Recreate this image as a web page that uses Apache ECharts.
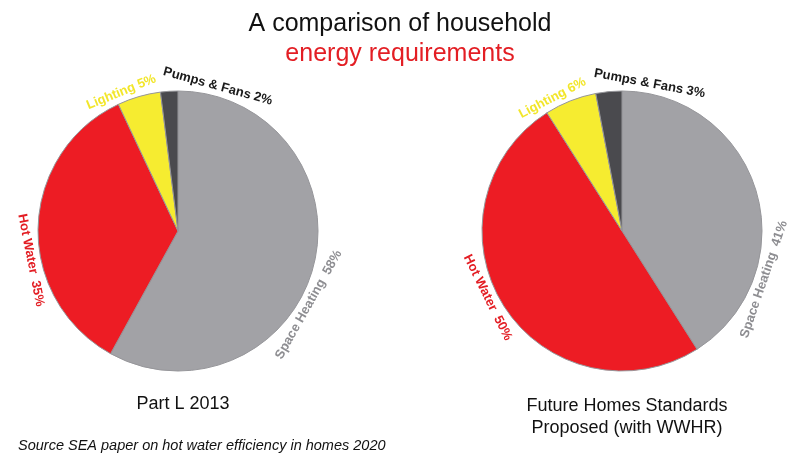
<!DOCTYPE html>
<html>
<head>
<meta charset="utf-8">
<title>Household energy requirements</title>
<script src="https://cdn.jsdelivr.net/npm/echarts@6/dist/echarts.min.js"></script>
<style>
    html, body { margin: 0; padding: 0; background: #fff; }
    #chart { width: 800px; height: 475px; }
</style>
</head>
<body>
<div id="chart"></div>
<script>
// data (percent)
var categories = ['Space Heating', 'Hot Water', 'Lighting', 'Pumps & Fans'];
var partL2013 = [58, 35, 5, 2];
var futureHomes = [41, 50, 6, 3];

// colours
var sliceColors = ['#a2a2a6', '#ed1c24', '#f6ec30', '#4a4a4e'];
var labelColors = ['#8e8e92', '#e31e24', '#f2e629', '#1a1a1a'];

// label angles are nudged a bit off the slice middle (degrees), like the original
var leftShift = [15, -13, -6, 19];
var rightShift = [35, 6, -6, 16];

var pieRadius = 140;
var labelGap = 10;
var leftCenter = [178, 231];
var rightCenter = [622, 231];
var fontName = "'Liberation Sans', Arial, sans-serif";

/**
 * 标签沿圆周排布 (tangential, outside)
 * */
function arcLabels(values, center, shift) {
    var total = 0;
    for (var i = 0; i < values.length; i++) total += values[i];
    return function (params) {
        var idx = params.dataIndex;
        var before = 0;
        for (var j = 0; j < idx; j++) before += values[j];
        var deg = (before + values[idx] / 2) / total * 360 + shift[idx];
        var rad = deg * Math.PI / 180;
        var d = pieRadius + labelGap;
        var rot = -deg;
        while (rot <= -90) rot += 180;
        while (rot > 90) rot -= 180;
        return {
            x: center[0] + d * Math.sin(rad),
            y: center[1] - d * Math.cos(rad),
            rotate: rot,
            align: 'center',
            verticalAlign: 'middle'
        };
    };
}

function buildData(values) {
    var arr = [];
    for (var i = 0; i < categories.length; i++) {
        arr.push({
            name: categories[i],
            value: values[i],
            itemStyle: { color: sliceColors[i] },
            label: { color: labelColors[i] }
        });
    }
    return arr;
}

function pieSeries(values, center, shift) {
    return {
        type: 'pie',
        center: center,
        radius: pieRadius,
        startAngle: 90,
        clockwise: true,
        avoidLabelOverlap: false,
        silent: true,
        itemStyle: { borderColor: '#96969a', borderWidth: 1 },
        label: {
            show: true,
            position: 'outside',
            fontFamily: fontName,
            fontSize: 13,
            fontWeight: 'bold',
            formatter: function (p) {
                return p.name + (p.value >= 10 ? '  ' : ' ') + p.value + '%';
            }
        },
        labelLine: { show: false },
        labelLayout: arcLabels(values, center, shift),
        data: buildData(values)
    };
}

var chart = echarts.init(document.getElementById('chart'));
chart.setOption({
    backgroundColor: '#ffffff',
    animation: false,
    title: [
        {
            text: 'A comparison of household',
            subtext: 'energy requirements',
            left: 'center',
            top: 7,
            itemGap: 5,
            textStyle: { fontFamily: fontName, fontSize: 25, fontWeight: 'normal', color: '#111111' },
            subtextStyle: { fontFamily: fontName, fontSize: 25, color: '#e31e24' }
        },
        {
            text: 'Part L 2013',
            left: leftCenter[0],
            textAlign: 'center',
            top: 390,
            textStyle: { fontFamily: fontName, fontSize: 18, fontWeight: 'normal', color: '#111111' }
        },
        {
            text: 'Future Homes Standards\nProposed (with WWHR)',
            left: rightCenter[0],
            textAlign: 'center',
            top: 390,
            textStyle: { fontFamily: fontName, fontSize: 18, fontWeight: 'normal', color: '#111111', lineHeight: 22 }
        },
        {
            text: 'Source SEA paper on hot water efficiency in homes 2020',
            left: 13,
            top: 433,
            textStyle: { fontFamily: fontName, fontSize: 14.5, fontStyle: 'italic', fontWeight: 'normal', color: '#111111' }
        }
    ],
    series: [
        pieSeries(partL2013, leftCenter, leftShift),
        pieSeries(futureHomes, rightCenter, rightShift)
    ]
});
</script>
</body>
</html>
